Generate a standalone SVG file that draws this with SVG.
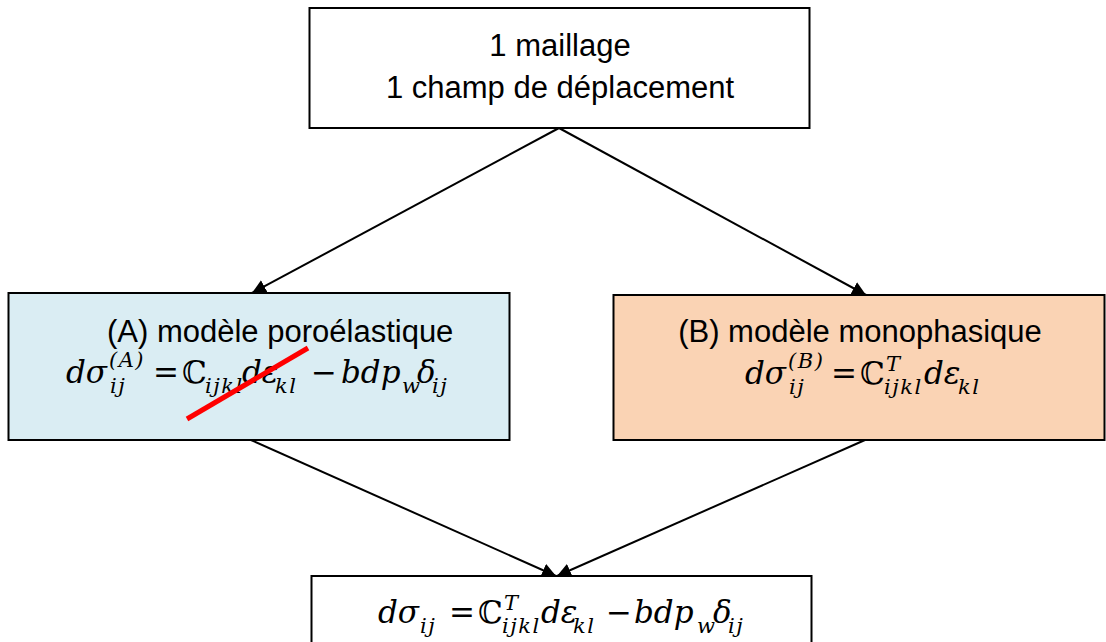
<svg xmlns="http://www.w3.org/2000/svg" width="1106" height="642" viewBox="0 0 1106 642">
<defs>
<marker id="ah" markerWidth="14" markerHeight="14" refX="14" refY="7" orient="auto" markerUnits="userSpaceOnUse">
<path d="M0,0 L14,7 L0,14 Z" fill="#000"/>
</marker>
<style>
.box{stroke:#000;stroke-width:2}
.lbl{font-family:"Liberation Sans",Arial,sans-serif;font-size:31px;fill:#000}
.m{font-family:"DejaVu Serif",serif;font-style:italic;font-size:31px;fill:#000}
.u{font-style:normal}
.s{font-size:21px;letter-spacing:1.5px}
.conn{stroke:#000;stroke-width:2;fill:none;marker-end:url(#ah)}
</style>
</defs>
<rect width="1106" height="642" fill="#fff"/>
<g id="connectors">
<line class="conn" x1="559" y1="128" x2="252" y2="293"/>
<line class="conn" x1="559" y1="128" x2="866" y2="295"/>
<line class="conn" x1="251" y1="440" x2="556" y2="576"/>
<line class="conn" x1="865" y1="440" x2="557" y2="576"/>
</g>
<g id="top">
<rect class="box" x="309.5" y="8" width="500" height="120" fill="#fff"/>
<text class="lbl" x="560" y="56" text-anchor="middle">1 maillage</text>
<text class="lbl" x="560" y="98" text-anchor="middle">1 champ de déplacement</text>
</g>
<g id="modelA">
<rect class="box" x="8.5" y="293" width="501" height="147" fill="#DAEDF3"/>
<text class="lbl" x="107" y="342">(A) modèle poroélastique</text>
<text class="m"><tspan x="66" y="383">dσ</tspan><tspan class="s" x="109" y="367">(A)</tspan><tspan class="s" x="110" y="393">ij</tspan><tspan class="u" x="153" y="383">=</tspan><tspan class="u" x="182" y="383">ℂ</tspan><tspan class="s" x="205" y="393">ijkl</tspan><tspan x="242" y="383">dε</tspan><tspan class="s" x="275" y="393">kl</tspan><tspan class="u" x="311" y="383">−</tspan><tspan x="341" y="383">bdp</tspan><tspan class="s" x="402" y="393">w</tspan><tspan x="417" y="383">δ</tspan><tspan class="s" x="432" y="393">ij</tspan></text>
<line x1="187" y1="419" x2="308" y2="348" stroke="#FF0000" stroke-width="5"/>
</g>
<g id="modelB">
<rect class="box" x="613.5" y="295" width="491" height="145" fill="#FAD3B4"/>
<text class="lbl" x="860" y="342" text-anchor="middle">(B) modèle monophasique</text>
<text class="m"><tspan x="745" y="384">dσ</tspan><tspan class="s" x="788" y="368">(B)</tspan><tspan class="s" x="789" y="394">ij</tspan><tspan class="u" x="831" y="384">=</tspan><tspan class="u" x="860" y="384">ℂ</tspan><tspan class="s" x="886" y="371">T</tspan><tspan class="s" x="884" y="394">ijkl</tspan><tspan x="924" y="384">dε</tspan><tspan class="s" x="958" y="394">kl</tspan></text>
</g>
<g id="result">
<rect class="box" x="311.5" y="576" width="500" height="80" fill="#fff"/>
<text class="m"><tspan x="378" y="623">dσ</tspan><tspan class="s" x="420" y="633">ij</tspan><tspan class="u" x="449" y="623">=</tspan><tspan class="u" x="478" y="623">ℂ</tspan><tspan class="s" x="504" y="610">T</tspan><tspan class="s" x="502" y="633">ijkl</tspan><tspan x="541" y="623">dε</tspan><tspan class="s" x="573" y="633">kl</tspan><tspan class="u" x="606" y="623">−</tspan><tspan x="634" y="623">bdp</tspan><tspan class="s" x="697" y="633">w</tspan><tspan x="713" y="623">δ</tspan><tspan class="s" x="728" y="633">ij</tspan></text>
</g>
</svg>
